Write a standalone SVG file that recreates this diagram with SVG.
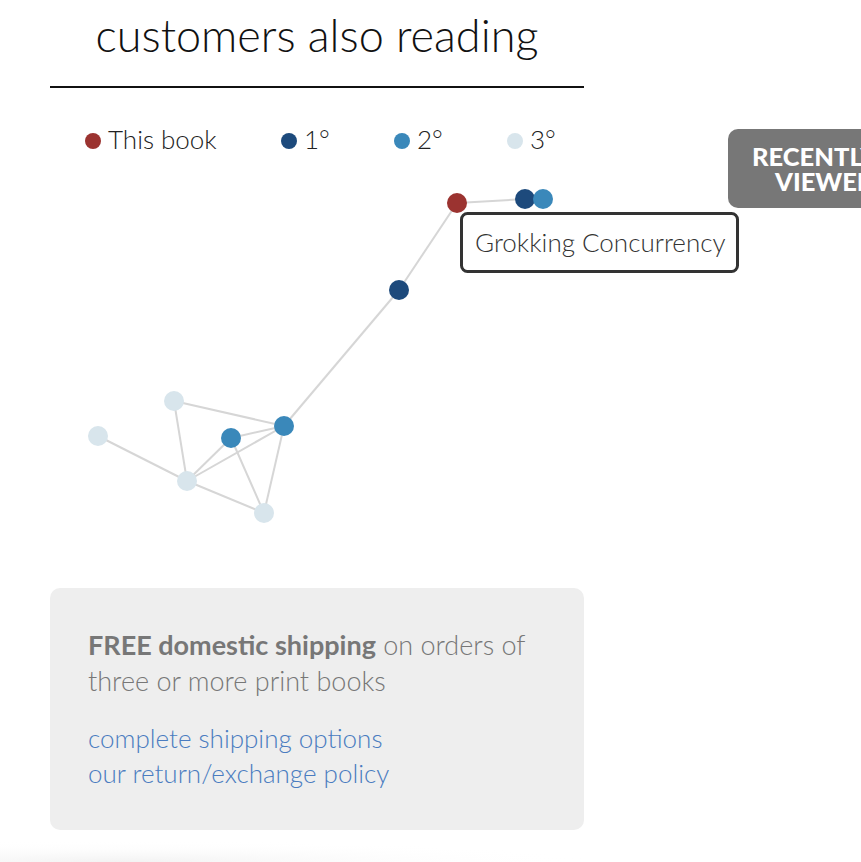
<svg xmlns="http://www.w3.org/2000/svg" width="861" height="862" viewBox="0 0 861 862">
<style>
text{font-family:Lato,"Open Sans","Liberation Sans",sans-serif}
.edge{stroke:#d6d6d6;stroke-width:2;fill:none}
.n0{fill:#9b3330}
.n1{fill:#1d4a7c}
.n2{fill:#3a88ba}
.n3{fill:#d8e5ec}
.leg{font-size:26px;font-weight:300;fill:#222}
.ship{font-size:27px;font-weight:300;fill:#777}
.link{font-size:26px;font-weight:300;fill:#4a7cc0}
.btn{font-size:25.5px;font-weight:900;fill:#fff}
</style>
<defs>
<radialGradient id="sh" cx="0.2" cy="1" r="0.8">
<stop offset="0" stop-color="#f2f2f2"/>
<stop offset="1" stop-color="#ffffff" stop-opacity="0"/>
</radialGradient>
</defs>
<rect width="861" height="862" fill="#fff"/>
<rect x="0" y="835" width="600" height="27" fill="url(#sh)"/>
<g id="title">
<text x="317" y="52" font-size="45" font-weight="300" fill="#111" text-anchor="middle">customers also reading</text>
<line x1="50" y1="87" x2="584" y2="87" stroke="#111" stroke-width="2"/>
</g>
<g id="legend">
<circle class="n0" cx="93" cy="141" r="8"/><text class="leg" x="108" y="149">This book</text>
<circle class="n1" cx="289" cy="141" r="8"/><text class="leg" x="304" y="149">1°</text>
<circle class="n2" cx="402" cy="141" r="8"/><text class="leg" x="417" y="149">2°</text>
<circle class="n3" cx="515" cy="141" r="8"/><text class="leg" x="530" y="149">3°</text>
</g>
<g id="recently-viewed">
<rect x="728" y="129" width="150" height="79" rx="10" fill="#777"/>
<text class="btn" x="752" y="166">RECENTLY</text>
<text class="btn" x="775" y="191">VIEWED</text>
</g>
<g id="connectors">
<line class="edge" x1="457" y1="203" x2="525" y2="199"/>
<line class="edge" x1="457" y1="203" x2="399" y2="290"/>
<line class="edge" x1="399" y1="290" x2="284" y2="426"/>
<line class="edge" x1="174" y1="401" x2="284" y2="426"/>
<line class="edge" x1="174" y1="401" x2="187" y2="481"/>
<line class="edge" x1="98" y1="436" x2="187" y2="481"/>
<line class="edge" x1="231" y1="438" x2="284" y2="426"/>
<line class="edge" x1="187" y1="481" x2="284" y2="426"/>
<line class="edge" x1="187" y1="481" x2="231" y2="438"/>
<line class="edge" x1="231" y1="438" x2="264" y2="513"/>
<line class="edge" x1="284" y1="426" x2="264" y2="513"/>
<line class="edge" x1="187" y1="481" x2="264" y2="513"/>
</g>
<g id="node-this"><circle class="n0" cx="457" cy="203" r="10"/></g>
<g id="node-a1"><circle class="n1" cx="525" cy="199" r="10"/></g>
<g id="node-a2"><circle class="n2" cx="543" cy="199" r="10"/></g>
<g id="node-b1"><circle class="n1" cx="399" cy="290" r="10"/></g>
<g id="node-c1"><circle class="n2" cx="284" cy="426" r="10"/></g>
<g id="node-c2"><circle class="n2" cx="231" cy="438" r="10"/></g>
<g id="node-d1"><circle class="n3" cx="174" cy="401" r="10"/></g>
<g id="node-d2"><circle class="n3" cx="98" cy="436" r="10"/></g>
<g id="node-d3"><circle class="n3" cx="187" cy="481" r="10"/></g>
<g id="node-d4"><circle class="n3" cx="264" cy="513" r="10"/></g>
<g id="tooltip">
<rect x="461.5" y="213.5" width="276" height="58" rx="6" fill="#fff" stroke="#333" stroke-width="3"/>
<text x="475" y="252" font-size="26" font-weight="300" fill="#333">Grokking Concurrency</text>
</g>
<g id="shipping">
<rect x="50" y="588" width="534" height="242" rx="10" fill="#eee"/>
<text class="ship" x="88" y="655"><tspan font-weight="700">FREE domestic shipping</tspan> on orders of</text>
<text class="ship" x="88" y="691">three or more print books</text>
<text class="link" x="88" y="748">complete shipping options</text>
<text class="link" x="88" y="783">our return/exchange policy</text>
</g>
</svg>
